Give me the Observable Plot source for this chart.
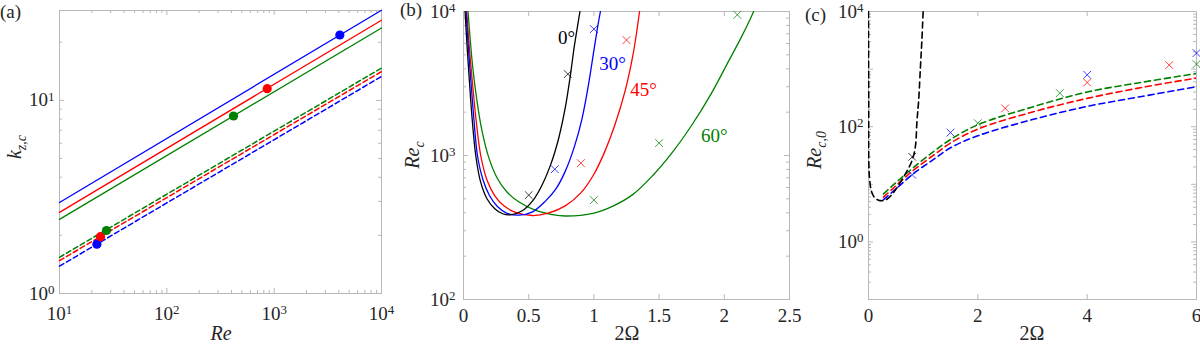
<!DOCTYPE html>
<html><head><meta charset="utf-8">
<script src="https://cdn.jsdelivr.net/npm/d3@7"></script>
<script src="https://cdn.jsdelivr.net/npm/@observablehq/plot@0.6"></script>
<style>
body{margin:0;background:#fff;}
#wrap{position:relative;width:1200px;height:347px;overflow:hidden;background:#fff;}
.panel{position:absolute;top:0;}
.panel svg{overflow:visible;}
.panel svg, .panel svg text, .panel svg tspan{font-family:"Liberation Serif","DejaVu Serif","Times New Roman","Noto Serif",serif !important;}
</style></head><body><div id="wrap"></div>
<script>
// ---------------- DATA ----------------
// Panel (a): k_{z,c} vs Re (straight lines on log-log, endpoints read at Re=10 and Re=1e4)
const aRe = [10, 10000];
const aBlueSolid = [2.96, 29.3];
const aRedSolid = [2.63, 26.0];
const aGreenSolid = [2.42, 23.7];
const aGreenDash = [1.54, 14.7];
const aRedDash = [1.48, 14.1];
const aBlueDash = [1.385, 13.3];
// filled circles (upper: on solid lines, lower: on dashed lines)
const aDotRe = [4090, 861, 418, 22.3, 24.1, 27.4];
const aDotK = [21.8, 11.5, 8.3, 1.80, 1.97, 2.12];
const aDotColor = ["blue", "red", "green", "blue", "red", "green"];
const aXTicks = [10, 100, 1000, 10000];
const aYTicks = [1, 10];

// Panel (b): Re_c vs 2Ω
const b0x = [0.012, 0.02, 0.03, 0.045, 0.065, 0.094, 0.13, 0.18, 0.24, 0.30, 0.36, 0.45, 0.53, 0.60, 0.67, 0.73, 0.78, 0.82, 0.85, 0.875, 0.893];
const b0y = [10000, 7413, 5248, 3311, 1862, 1000, 661, 501, 427, 394, 387, 413, 484, 617, 871, 1318, 2138, 3631, 5754, 7943, 10000];
const b30x = [0.02, 0.03, 0.042, 0.058, 0.08, 0.107, 0.15, 0.20, 0.26, 0.33, 0.426, 0.53, 0.63, 0.71, 0.78, 0.85, 0.91, 0.96, 1.0, 1.03, 1.05];
const b30y = [10000, 7079, 4898, 3162, 1778, 1000, 676, 525, 442, 398, 385, 406, 484, 589, 776, 1148, 1820, 3162, 5370, 7943, 10000];
const b45x = [0.025, 0.037, 0.051, 0.069, 0.095, 0.132, 0.18, 0.24, 0.31, 0.40, 0.528, 0.65, 0.78, 0.90, 1.00, 1.08, 1.16, 1.24, 1.30, 1.33, 1.35];
const b45y = [10000, 6918, 4786, 3162, 1820, 1000, 676, 525, 447, 403, 383, 398, 447, 550, 741, 1047, 1622, 2818, 5012, 7413, 10000];
const b60x = [0.035, 0.05, 0.07, 0.10, 0.14, 0.196, 0.26, 0.33, 0.42, 0.55, 0.68, 0.783, 1.0, 1.15, 1.30, 1.45, 1.60, 1.75, 1.90, 2.03, 2.13, 2.19, 2.225];
const b60y = [10000, 6607, 4169, 2512, 1514, 955, 692, 562, 479, 417, 389, 380, 398, 447, 537, 724, 1047, 1622, 2692, 4467, 6607, 8511, 10000];
// crosses
const bCrossX = [0.5, 0.8, 0.7, 1.0, 0.9, 1.25, 1.0, 1.5, 2.1];
const bCrossY = [531, 3675, 803, 7550, 885, 6330, 490, 1220, 9480];
const bCrossColor = ["black", "black", "blue", "blue", "red", "red", "green", "green", "green"];
// angle annotations
const bLabelText = ["0°", "30°", "45°", "60°"];
const bLabelX = [0.79, 1.143, 1.381, 1.924];
const bLabelY = [6560, 4340, 2860, 1370];
const bLabelColor = ["black", "blue", "red", "green"];
const bXTicks = [0, 0.5, 1, 1.5, 2, 2.5];
const bYTicks = [100, 1000, 10000];

// Panel (c): Re_{c,0} vs 2Ω
const cBlackX = [0, 0.004, 0.018, 0.062, 0.123, 0.183, 0.25, 0.337, 0.458, 0.58, 0.703, 0.795, 0.856, 0.887, 0.917, 0.95, 0.975, 1.0];
const cBlackY = [10000, 300, 13, 7.2, 5.7, 5.3, 5.2, 5.5, 7.2, 10.7, 17, 25.6, 44, 126, 282, 1080, 3000, 10000];
const cX = [0.275, 0.5, 0.825, 1.19, 1.5, 2, 3, 4, 5, 6];
const cGreenY = [6.8, 10.7, 19.6, 37, 60, 108, 220, 400, 590, 840];
const cRedY = [6.0, 9.4, 17.6, 32, 52, 91, 180, 310, 480, 698];
const cBlueY = [5.4, 8.3, 15.4, 27, 43, 69.5, 133, 225, 335, 493];
const cCrossX = [0.8, 0.8, 1.5, 4, 6, 2.5, 4, 5.5, 2, 3.5, 6];
const cCrossY = [30, 14.6, 79, 796, 1900, 208, 585, 1175, 115, 383, 1220];
const cCrossColor = ["black", "blue", "blue", "blue", "blue", "red", "red", "red", "green", "green", "green"];
const cXTicks = [0, 2, 4, 6];
const cYTicks = [1, 100, 10000];
const cYMajor = [0.1, 1, 10, 100, 1000, 10000];

// ---------------- STYLE ----------------
const COLORS = {blue: "#0000ff", red: "#ff0000", green: "#008000", black: "#000000"};
const GRAY = "#b8b8b8";
const INK = "#262626";
const FONT = "'Liberation Serif', 'DejaVu Serif', 'Times New Roman', serif";

const rows = (xs, ys) => xs.map((x, i) => ({x, y: ys[i]}));
const logFmt = d => "10^" + Math.round(Math.log10(d));
const numFmt = d => String(d);
function minorLog(lo, hi) {
  const out = [];
  for (let e = Math.floor(Math.log10(lo)); e <= Math.ceil(Math.log10(hi)); e++)
    for (let m = 2; m <= 9; m++) { const v = m * Math.pow(10, e); if (v > lo && v < hi) out.push(v); }
  return out;
}
function xTicks(vals, len, H) {
  return [Plot.tickX(vals, {x: d => d, stroke: GRAY, insetTop: H - len}),
          Plot.tickX(vals, {x: d => d, stroke: GRAY, insetBottom: H - len})];
}
function yTicks(vals, len, W) {
  return [Plot.tickY(vals, {y: d => d, stroke: GRAY, insetRight: W - len}),
          Plot.tickY(vals, {y: d => d, stroke: GRAY, insetLeft: W - len})];
}
function supify(svg) {
  d3.select(svg).selectAll("text").each(function () {
    const m = /^10\^(-?\d+)$/.exec(this.textContent);
    if (m) {
      const s = d3.select(this);
      s.text("10");
      s.append("tspan").attr("dy", "-0.45em").attr("font-size", "0.68em").text(m[1]);
    }
  });
}
function addLabel(svg, x, y, parts, rotate = 0, anchor = "middle", size = 20) {
  const t = d3.select(svg).append("text")
    .attr("transform", `translate(${x},${y}) rotate(${rotate})`)
    .attr("text-anchor", anchor).attr("font-family", FONT)
    .attr("font-size", size).attr("fill", INK);
  for (const p of parts) {
    const ts = t.append("tspan").text(p.t);
    if (p.i) ts.attr("font-style", "italic");
    if (p.sub) ts.attr("font-size", size * 0.7).attr("dy", size * 0.25);
  }
}
function mount(svg, left) {
  const div = document.createElement("div");
  div.className = "panel";
  div.style.left = left + "px";
  div.appendChild(svg);
  document.getElementById("wrap").appendChild(div);
}
const baseStyle = `font-family: ${FONT}; font-size: 19px; color: ${INK}; background: transparent; overflow: visible;`;

// ---------------- PANEL (a) ----------------
{
  const mt = 10, mb = 54, ml = 59, mr = 19, W = 400, Hh = 347;
  const H = Hh - mt - mb, FW = W - ml - mr;
  const lineSolid = (ys, c) => Plot.line(rows(aRe, ys), {x: "x", y: "y", stroke: COLORS[c], strokeWidth: 1.3});
  const lineDash = (ys, c) => Plot.line(rows(aRe, ys), {x: "x", y: "y", stroke: COLORS[c], strokeWidth: 1.5, strokeDasharray: "5,3"});
  const svg = Plot.plot({
    width: W, height: Hh, marginTop: mt, marginBottom: mb, marginLeft: ml, marginRight: mr,
    style: baseStyle,
    x: {type: "log", domain: [10, 10000]},
    y: {type: "log", domain: [1, 29.2]},
    marks: [
      Plot.frame({stroke: GRAY}),
      ...xTicks(aXTicks, 5, H), ...xTicks(minorLog(10, 10000), 3, H),
      ...yTicks(aYTicks, 5, FW), ...yTicks(minorLog(1, 29.2), 3, FW),
      Plot.axisX(aXTicks, {anchor: "bottom", tickSize: 0, tickPadding: 13, tickFormat: logFmt, label: null, fill: INK, fontSize: 19}),
      Plot.axisY(aYTicks, {anchor: "left", tickSize: 0, tickPadding: 5, tickFormat: logFmt, label: null, fill: INK, fontSize: 19}),
      lineSolid(aBlueSolid, "blue"), lineSolid(aRedSolid, "red"), lineSolid(aGreenSolid, "green"),
      lineDash(aGreenDash, "green"), lineDash(aRedDash, "red"), lineDash(aBlueDash, "blue"),
      Plot.dot(aDotRe.map((x, i) => ({x, y: aDotK[i], c: COLORS[aDotColor[i]]})), {x: "x", y: "y", r: 4.6, fill: "c", stroke: "none"})
    ]
  });
  supify(svg);
  addLabel(svg, 0, 18, [{t: "(a)"}], 0, "start", 19);
  addLabel(svg, 221, 340, [{t: "Re", i: true}]);
  addLabel(svg, 21, 147, [{t: "k", i: true}, {t: "z,c", i: true, sub: true}], -90);
  mount(svg, 0);
}

// ---------------- PANEL (b) ----------------
{
  const mt = 11, mb = 48, ml = 63, mr = 11, W = 400, Hh = 347;
  const H = Hh - mt - mb, FW = W - ml - mr;
  const curve = (xs, ys, c) => Plot.line(rows(xs, ys), {x: "x", y: "y", stroke: COLORS[c], strokeWidth: 1.3, curve: "catmull-rom", clip: true});
  const svg = Plot.plot({
    width: W, height: Hh, marginTop: mt, marginBottom: mb, marginLeft: ml, marginRight: mr,
    style: baseStyle,
    x: {domain: [0, 2.5]},
    y: {type: "log", domain: [100, 10000]},
    marks: [
      Plot.frame({stroke: GRAY}),
      ...xTicks(bXTicks, 5, H),
      ...yTicks(bYTicks, 5, FW), ...yTicks(minorLog(100, 10000), 3, FW),
      Plot.axisX(bXTicks, {anchor: "bottom", tickSize: 0, tickPadding: 9, tickFormat: numFmt, label: null, fill: INK, fontSize: 19}),
      Plot.axisY(bYTicks, {anchor: "left", tickSize: 0, tickPadding: 8, tickFormat: logFmt, label: null, fill: INK, fontSize: 19}),
      curve(b60x, b60y, "green"), curve(b45x, b45y, "red"), curve(b30x, b30y, "blue"), curve(b0x, b0y, "black"),
      Plot.dot(bCrossX.map((x, i) => ({x, y: bCrossY[i], c: COLORS[bCrossColor[i]]})), {x: "x", y: "y", symbol: "times", r: 3.6, stroke: "c", strokeWidth: 1, strokeOpacity: 0.75}),
      Plot.text(bLabelText.map((t, i) => ({t, x: bLabelX[i], y: bLabelY[i], c: COLORS[bLabelColor[i]]})), {x: "x", y: "y", text: "t", fill: "c", fontSize: 19, textAnchor: "middle"})
    ]
  });
  supify(svg);
  addLabel(svg, 0, 16, [{t: "(b)"}], 0, "start", 19);
  addLabel(svg, 227, 340, [{t: "2Ω"}]);
  addLabel(svg, 19, 155, [{t: "Re", i: true}, {t: "c", i: true, sub: true}], -90);
  mount(svg, 400);
}

// ---------------- PANEL (c) ----------------
{
  const mt = 11, mb = 48, ml = 68, mr = 4, W = 400, Hh = 347;
  const H = Hh - mt - mb, FW = W - ml - mr;
  const dash = (xs, ys, c) => Plot.line(rows(xs, ys), {x: "x", y: "y", stroke: COLORS[c], strokeWidth: 1.6, strokeDasharray: "6,4", curve: "catmull-rom", clip: true});
  const svg = Plot.plot({
    width: W, height: Hh, marginTop: mt, marginBottom: mb, marginLeft: ml, marginRight: mr,
    style: baseStyle,
    x: {domain: [0, 6]},
    y: {type: "log", domain: [0.1, 10000]},
    marks: [
      Plot.frame({stroke: GRAY}),
      ...xTicks(cXTicks, 5, H),
      ...yTicks(cYMajor, 5, FW), ...yTicks(minorLog(0.1, 10000), 3, FW),
      Plot.axisX(cXTicks, {anchor: "bottom", tickSize: 0, tickPadding: 9, tickFormat: numFmt, label: null, fill: INK, fontSize: 19}),
      Plot.axisY(cYTicks, {anchor: "left", tickSize: 0, tickPadding: 5, tickFormat: logFmt, label: null, fill: INK, fontSize: 19}),
      dash(cX, cGreenY, "green"), dash(cX, cRedY, "red"), dash(cX, cBlueY, "blue"),
      dash(cBlackX, cBlackY, "black"),
      Plot.dot(cCrossX.map((x, i) => ({x, y: cCrossY[i], c: COLORS[cCrossColor[i]]})), {x: "x", y: "y", symbol: "times", r: 3.6, stroke: "c", strokeWidth: 1, strokeOpacity: 0.75})
    ]
  });
  supify(svg);
  addLabel(svg, 5, 21, [{t: "(c)"}], 0, "start", 19);
  addLabel(svg, 232, 340, [{t: "2Ω"}]);
  addLabel(svg, 21, 150, [{t: "Re", i: true}, {t: "c,0", i: true, sub: true}], -90);
  mount(svg, 800);
}
</script>
</body></html>
